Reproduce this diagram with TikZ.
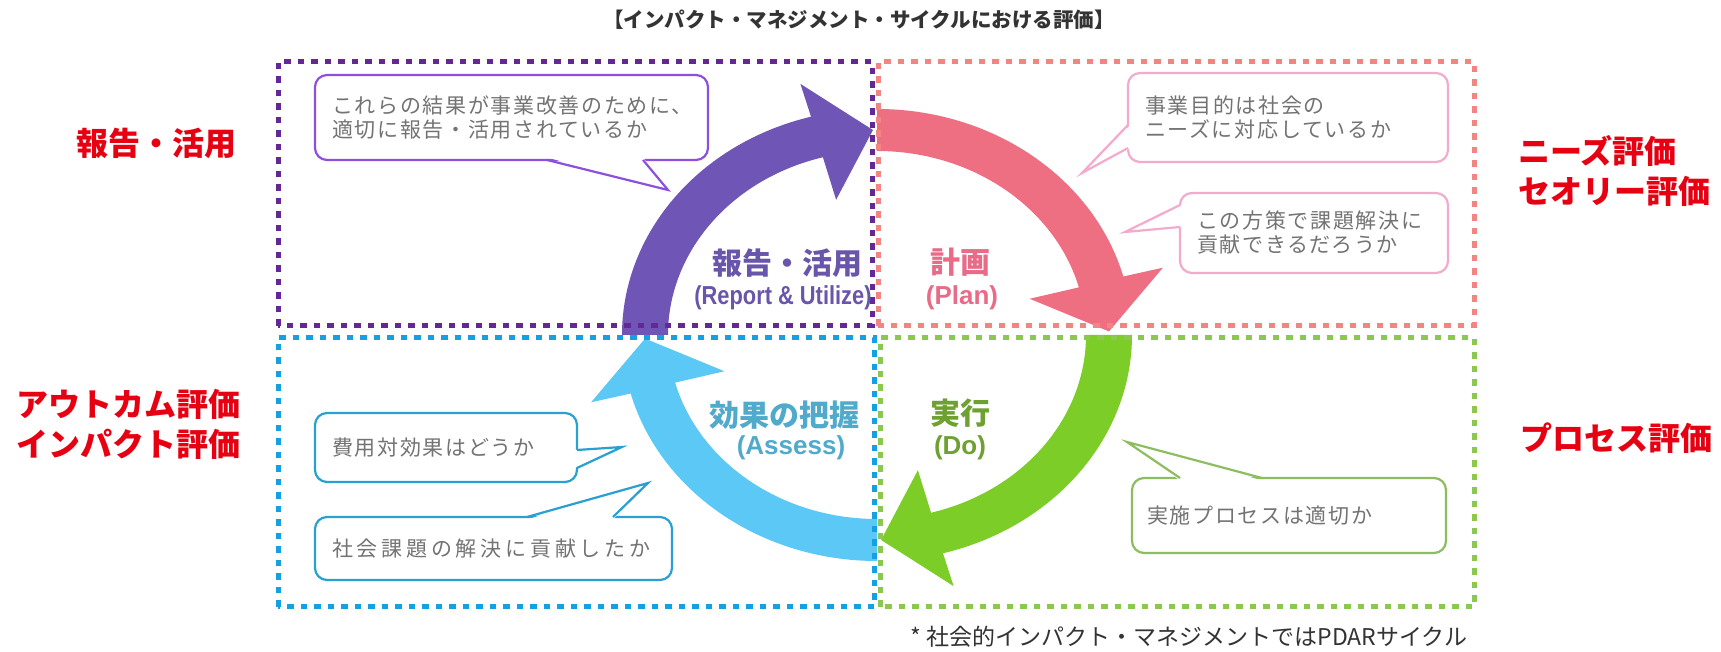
\documentclass[tikz,border=0pt]{standalone}
\usepackage{graphicx}
\usepackage{fontspec}
\setmainfont{Noto Sans CJK JP}
\newfontfamily\latfont{Liberation Sans}
\newfontfamily\bubfont{Noto Sans CJK JP}[LetterSpace=8]
\newfontfamily\bubwfont{Noto Sans CJK JP}[LetterSpace=18]
\usetikzlibrary{calc}
\definecolor{purpleArrow}{RGB}{111,85,181}
\definecolor{purpleBox}{RGB}{100,40,150}
\definecolor{purpleBub}{RGB}{140,80,220}
\definecolor{purpleLbl}{RGB}{105,85,170}
\definecolor{pinkArrow}{RGB}{238,110,130}
\definecolor{pinkBox}{RGB}{242,132,130}
\definecolor{pinkBub}{RGB}{244,170,205}
\definecolor{pinkLbl}{RGB}{232,108,135}
\definecolor{greenArrow}{RGB}{125,205,40}
\definecolor{greenBox}{RGB}{140,200,80}
\definecolor{greenBub}{RGB}{140,190,95}
\definecolor{greenLbl}{RGB}{110,160,50}
\definecolor{cyanArrow}{RGB}{92,200,245}
\definecolor{cyanBox}{RGB}{20,160,225}
\definecolor{cyanBub}{RGB}{40,160,210}
\definecolor{cyanLbl}{RGB}{80,170,204}
\definecolor{redLbl}{RGB}{230,0,18}
\definecolor{txtgray}{RGB}{115,115,115}
\definecolor{darktxt}{RGB}{51,51,51}
\newcommand\ringarrow[2]{%
  \pgfmathsetmacro\rEnd{#1-75}\pgfmathsetmacro\rTip{#1-89}%
  \fill[#2] ($(C)+(#1:255pt and 226pt)$)
    arc[start angle=#1, end angle=\rEnd, x radius=255pt, y radius=226pt]
    -- ($(C)+(\rEnd:296pt and 260pt)$)
    -- ($(C)+(\rTip:232pt and 205pt)$)
    -- ($(C)+(\rEnd:158pt and 140pt)$)
    -- ($(C)+(\rEnd:209pt and 184pt)$)
    arc[start angle=\rEnd, end angle=#1, x radius=209pt, y radius=184pt] -- cycle;}
\begin{document}
\begin{tikzpicture}[x=1pt,y=1pt,
  dotbox/.style={line width=5pt, dash pattern=on 6.5pt off 7pt},
  bubble/.style={draw, line width=2.2pt, rounded corners=12pt, fill=white,
    align=left, inner xsep=17pt, inner ysep=0pt, text=txtgray,
    font=\bubfont\fontsize{21}{24}\selectfont},
  tailline/.style={line width=2.2pt, line join=miter},
  redlbl/.style={text=redLbl, font=\bfseries\fontsize{32}{40}\selectfont, align=left, inner sep=0pt},
  cjklbl/.style={font=\bfseries\fontsize{30}{36}\selectfont, inner sep=0pt},
  englbl/.style={font=\latfont\bfseries\fontsize{26}{30}\selectfont, inner sep=0pt}]
\useasboundingbox (0,0) rectangle (1721,652);
\fill[white] (0,0) rectangle (1721,652);

% title
\node[text=darktxt, font=\bfseries\fontsize{20.5}{24}\selectfont] (title) at (859,632)
  {【インパクト・マネジメント・サイクルにおける評価】};

% ring arrows
\coordinate (C) at (877,317);
\ringarrow{180}{purpleArrow}
\ringarrow{90}{pinkArrow}
\ringarrow{0}{greenArrow}
\ringarrow{-90}{cyanArrow}

% dotted quadrant boxes
\draw[dotbox, purpleBox] (278,326) rectangle (872,590);
\draw[dotbox, pinkBox] (878,326) rectangle (1474,590);
\draw[dotbox, cyanBox] (278,45) rectangle (874,314);
\draw[dotbox, greenBox] (880,45) rectangle (1474,314);

% center labels
\node[cjklbl, text=purpleLbl] (lblR) at (787,389) {報告・活用};
\node[englbl, text=purpleLbl] (lblRe) at (783,354) {\scalebox{0.84}[1]{(Report \& Utilize)}};
\node[cjklbl, text=pinkLbl] (lblP) at (960,390) {計画};
\node[englbl, text=pinkLbl] (lblPe) at (962,354) {(Plan)};
\node[cjklbl, text=cyanLbl] (lblA) at (784,237) {効果の把握};
\node[englbl, text=cyanLbl] (lblAe) at (791,204) {(Assess)};
\node[cjklbl, text=greenLbl] (lblD) at (960,239) {実行};
\node[englbl, text=greenLbl] (lblDe) at (960,204) {(Do)};

% bubbles
\node[bubble, draw=purpleBub, text width=359pt, minimum height=85pt] (bR) at (511.5,534.5)
  {これらの結果が事業改善のために、\\適切に報告・活用されているか};
\coordinate (tR) at (668,462);
\fill[white] (547,494.5) -- (tR) -- (643,494.5) -- cycle;
\draw[tailline, purpleBub] (547,492) -- (tR) -- (643,492);

\node[bubble, draw=pinkBub, text width=286pt, minimum height=89pt] (bP1) at (1288,534.5)
  {事業目的は社会の\\ニーズに対応しているか};
\coordinate (tP1) at (1082,479);
\fill[white] (1130.5,527) -- (tP1) -- (1130.5,504) -- cycle;
\draw[tailline, pinkBub] (1128,527) -- (tP1) -- (1128,504);

\node[bubble, draw=pinkBub, text width=234pt, minimum height=80pt] (bP2) at (1314,419)
  {この方策で課題解決に\\貢献できるだろうか};
\coordinate (tP2) at (1125,420);
\fill[white] (1182.5,447) -- (tP2) -- (1182.5,425) -- cycle;
\draw[tailline, pinkBub] (1180,447) -- (tP2) -- (1180,425);

\node[bubble, draw=cyanBub, text width=228pt, minimum height=69pt] (bA1) at (446,204.5)
  {費用対効果はどうか};
\coordinate (tA1) at (622,205);
\fill[white] (574.5,202) -- (tA1) -- (574.5,184) -- cycle;
\draw[tailline, cyanBub] (577,202) -- (tA1) -- (577,184);

\node[bubble, draw=cyanBub, text width=323pt, minimum height=63pt, font=\bubwfont\fontsize{21}{24}\selectfont] (bA2) at (493.5,103.5)
  {社会課題の解決に貢献したか};
\coordinate (tA2) at (648,169);
\fill[white] (527,132.5) -- (tA2) -- (613,132.5) -- cycle;
\draw[tailline, cyanBub] (527,135) -- (tA2) -- (613,135);

\node[bubble, draw=greenBub, text width=284pt, minimum height=75pt, inner xsep=15pt] (bD) at (1289,136.5)
  {実施プロセスは適切か};
\coordinate (tD) at (1127,210);
\fill[white] (1180,171.5) -- (tD) -- (1262,171.5) -- cycle;
\draw[tailline, greenBub] (1180,174) -- (tD) -- (1262,174);

% red evaluation labels
\node[redlbl] (eR) at (156.5,509) {報告・活用};
\node[redlbl, anchor=west] (eA) at (16,228) {アウトカム評価\\インパクト評価};
\node[redlbl, anchor=west] (eP) at (1518,481) {ニーズ評価\\セオリー評価};
\node[redlbl, anchor=west] (eD) at (1520,214) {プロセス評価};

% footnote
\node[text=darktxt, font=\fontsize{23}{28}\selectfont, anchor=center] (foot) at (1189,15)
  {* 社会的インパクト・マネジメントではPDARサイクル};
\end{tikzpicture}
\end{document}
